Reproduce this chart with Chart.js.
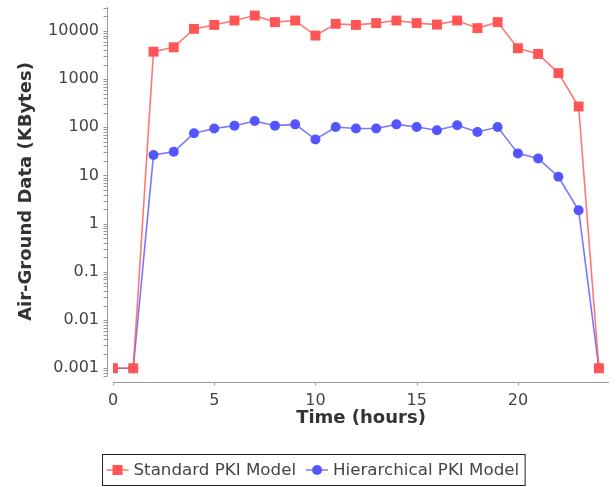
<!DOCTYPE html>
<html lang="en">
<head>
    <meta charset="UTF-8">
    <title>Air-Ground Data</title>
    <script src="https://cdn.jsdelivr.net/npm/chart.js@4.4.1/dist/chart.umd.min.js"></script>
    <style>
        body { margin: 0; background: #fff; }
        .chart-container { position: relative; width: 616px; height: 487px; }
    </style>
</head>
<body>
    <div class="chart-container">
        <canvas id="chart"></canvas>
    </div>
    <script>
    // values
    const hours = [0, 1, 2, 3, 4, 5, 6, 7, 8, 9, 10, 11, 12, 13, 14, 15, 16, 17, 18, 19, 20, 21, 22, 23, 24]
    const standardPki = [0.001, 0.001, 3700, 4570, 11000, 13300, 16400, 20800, 15200, 16400, 7980, 14000,
        13300, 14500, 16400, 14500, 13500, 16400, 11400, 15200, 4370, 3320, 1330, 270, 0.001]
    const hierarchicalPki = [0.001, 0.001, 26.5, 31, 75, 94, 108, 135, 108, 115, 56, 101,
        94, 94, 115, 101, 87, 110, 80, 101, 28.7, 22.6, 9.4, 1.9, 0.001]
    const xTicks = [0, 5, 10, 15, 20]
    const yTicks = [0.001, 0.01, 0.1, 1, 10, 100, 1000, 10000]
    const seriesNames = ['Standard PKI Model', 'Hierarchical PKI Model']

    const FONT = '"DejaVu Sans", sans-serif'
    const AXIS = '#999'

    // JFreeChart style axes: lines sit a few px away from the plot area
    const offsetAxes = {
        id: 'offsetAxes',
        afterDraw(chart) {
            const {ctx, chartArea: a, scales} = chart
            const x = scales.x, y = scales.y
            ctx.save()
            ctx.strokeStyle = AXIS
            ctx.lineWidth = 1
            ctx.beginPath()
            const ax = a.left - 5.5
            ctx.moveTo(ax, a.top); ctx.lineTo(ax, a.bottom)
            // minor + major ticks on log axis
            for (let e = -4; e <= 4; e++) {
                for (let m = 1; m <= 9; m++) {
                    const v = m * Math.pow(10, e)
                    if (v < y.min || v > y.max) continue
                    const py = Math.round(y.getPixelForValue(v)) + 0.5
                    ctx.moveTo(ax - 4, py); ctx.lineTo(ax, py)
                }
            }
            const ay = a.bottom + 6.5
            ctx.moveTo(a.left, ay); ctx.lineTo(a.right, ay)
            xTicks.forEach(v => {
                const px = Math.round(x.getPixelForValue(v)) + 0.5
                ctx.moveTo(px, ay); ctx.lineTo(px, ay + 3)
            })
            ctx.stroke()
            ctx.restore()
        }
    }

    const boxedLegend = {
        id: 'boxedLegend',
        afterDraw(chart) {
            const ctx = chart.ctx
            const sets = chart.data.datasets
            ctx.save()
            ctx.font = '16.7px ' + FONT
            ctx.textBaseline = 'middle'
            const top = 454.5, h = 31, cy = top + h / 2
            const left = 102.5
            let cx = left + 4
            sets.forEach((ds, i) => {
                ctx.strokeStyle = ds.borderColor
                ctx.lineWidth = 1.5
                ctx.beginPath(); ctx.moveTo(cx, cy); ctx.lineTo(cx + 22, cy); ctx.stroke()
                ctx.fillStyle = ds.pointBackgroundColor
                if (ds.pointStyle === 'rect') {
                    ctx.fillRect(cx + 11 - 5, cy - 5, 10, 10)
                } else {
                    ctx.beginPath(); ctx.arc(cx + 11, cy, 5, 0, Math.PI * 2); ctx.fill()
                }
                cx += 27
                ctx.fillStyle = '#444'
                ctx.fillText(ds.label, cx, cy + 1)
                cx += ctx.measureText(ds.label).width + 10
            })
            ctx.strokeStyle = '#222'
            ctx.lineWidth = 1
            ctx.strokeRect(left, top, cx - 4 - left, h)
            ctx.restore()
        }
    }

    const noEdgePad = s => { s.paddingTop = 0; s.paddingBottom = 0; s.paddingLeft = 0; s.paddingRight = 0 }

    const ctx = document.getElementById('chart').getContext('2d')
    const myChart = new Chart(ctx, {
        type: 'line',
        data: {
            datasets: [{
                label: seriesNames[0],
                data: hours.map((h, i) => ({x: h, y: standardPki[i]})),
                borderColor: 'rgba(255, 85, 85, 0.8)',
                borderWidth: 1.6,
                pointStyle: 'rect',
                pointRadius: 7,
                pointBorderWidth: 0,
                pointBackgroundColor: '#ff5555',
                clip: 0
            }, {
                label: seriesNames[1],
                data: hours.map((h, i) => ({x: h, y: hierarchicalPki[i]})),
                borderColor: 'rgba(85, 85, 255, 0.8)',
                borderWidth: 1.6,
                pointStyle: 'circle',
                pointRadius: 5,
                pointBorderWidth: 0,
                pointBackgroundColor: '#5555ff',
                clip: 0
            }]
        },
        options: {
            responsive: true,
            maintainAspectRatio: false,
            animation: false,
            layout: { padding: { left: 0, top: 7, right: 3, bottom: 51 } },
            plugins: { legend: { display: false }, tooltip: { enabled: false } },
            scales: {
                x: {
                    type: 'linear',
                    min: 0,
                    max: 24.5,
                    afterBuildTicks: s => { s.ticks = xTicks.map(v => ({value: v})) },
                    afterFit: s => { s.height = 60; noEdgePad(s) },
                    grid: { display: false, drawTicks: false },
                    border: { display: false },
                    ticks: { padding: 15, color: '#444', font: { family: FONT, size: 16 } },
                    title: {
                        display: true, text: 'Time (hours)', color: '#333',
                        font: { family: FONT, size: 18, weight: 'bold' },
                        padding: { top: 0, bottom: 7 }
                    }
                },
                y: {
                    type: 'logarithmic',
                    min: 0.00069,
                    max: 31300,
                    afterBuildTicks: s => { s.ticks = yTicks.map(v => ({value: v})) },
                    afterFit: s => { s.width = 113; noEdgePad(s) },
                    grid: { display: false, drawTicks: false },
                    border: { display: false },
                    ticks: {
                        padding: 14, color: '#444', font: { family: FONT, size: 16 },
                        callback: v => String(v)
                    },
                    title: {
                        display: true, text: 'Air-Ground Data (KBytes)', color: '#333',
                        font: { family: FONT, size: 18, weight: 'bold' },
                        padding: { top: 16, bottom: 0 }
                    }
                }
            }
        },
        plugins: [offsetAxes, boxedLegend]
    })
    </script>
</body>
</html>
